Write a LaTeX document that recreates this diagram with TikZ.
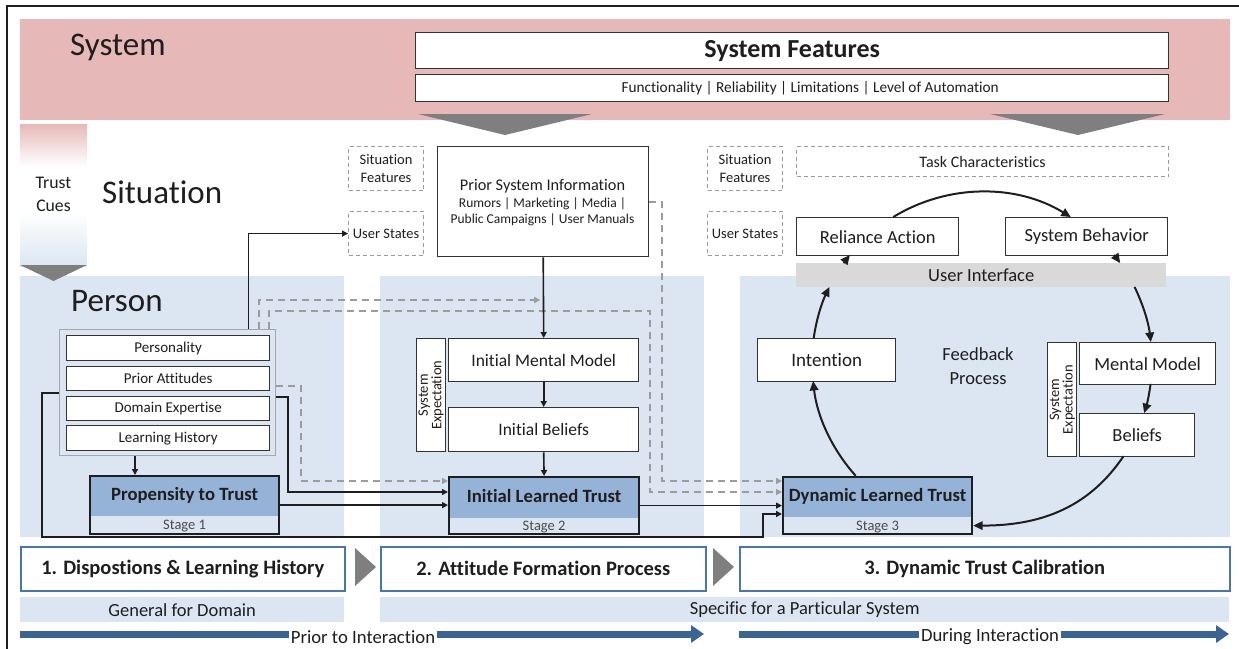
\documentclass[tikz,border=0pt]{standalone}
\usepackage{fontspec}
\setmainfont{Carlito}[Ligatures=NoCommon]
\usetikzlibrary{arrows.meta,calc}

\definecolor{sysred}{HTML}{E6B9B8}
\definecolor{perblue}{HTML}{DCE6F2}
\definecolor{trustblue}{HTML}{95B3D7}
\definecolor{cuegray}{HTML}{7F7F7F}
\definecolor{uigray}{HTML}{D9D9D9}
\definecolor{stageblue}{HTML}{4A76B0}
\definecolor{phaseblue}{HTML}{3A6491}
\definecolor{ink}{HTML}{1E1E1E}
\definecolor{boxline}{HTML}{333333}
\definecolor{dashgray}{HTML}{9C9C9C}
\definecolor{groupgray}{HTML}{A6A6A6}

\newcommand\fsz[2]{\fontsize{#1}{#2}\selectfont}

\tikzset{
  nw/.style={anchor=north west, inner sep=0pt, align=center, text=ink},
  box/.style={nw, draw=boxline, line width=1.4pt, fill=white},
  dbox/.style={nw, draw=dashgray, line width=1.1pt, dash pattern=on 4pt off 3pt,
    font=\fsz{14.5}{18}},
  trustbox/.style={nw, draw=ink, line width=2.2pt, fill=perblue,
    path picture={\fill[trustblue] (path picture bounding box.north west)
      rectangle ([yshift=#1]path picture bounding box.south east);}},
  trustlbl/.style={text=ink, inner sep=0pt, font=\bfseries\fsz{18.7}{22}},
  stagelbl/.style={text=ink!80, inner sep=0pt, font=\fsz{14.5}{17}},
  arr/.style={draw=ink, line width=1.6pt, -{Triangle[length=6pt,width=6pt]}},
  darr/.style={draw=dashgray, line width=1.8pt, dash pattern=on 7pt off 5pt,
    -{Triangle[length=6pt,width=6pt]}},
  carr/.style={draw=ink, line width=2pt, -{Triangle[length=9.5pt,width=8.5pt]}},
  stagebox/.style={nw, draw=stageblue, line width=1.5pt, fill=white,
    font=\bfseries\fsz{20.5}{24}},
  phase/.style={draw=phaseblue, line width=7pt},
  phasearr/.style={phase, -{Triangle[length=13pt,width=17pt]}},
  phaselbl/.style={text=ink, inner sep=1.5pt, font=\fsz{18.7}{22}},
  title/.style={anchor=base west, text=ink, inner sep=0pt, font=\fsz{33}{36}},
  rotlbl/.style={rotate=90, align=center, text=ink, inner sep=0pt, font=\fsz{14.5}{13.5}},
}

\begin{document}
\begin{tikzpicture}[x=1pt,y=1pt]
\useasboundingbox (0,0) rectangle (1239,-648);

% outer frame (open at the right and bottom)
\draw[ink, line width=1.5pt] (7,-652) -- (7,-6) -- (1242,-6);

% layer bands
\fill[sysred] (20,-19) rectangle (1230,-120);
\fill[perblue] (20,-276) rectangle (344,-537);
\fill[perblue] (380,-276) rectangle (704,-537);
\fill[perblue] (740,-276) rectangle (1230,-537);

% trust cues column
\shade[top color=sysred, bottom color=white] (20,-124) rectangle (87,-166);
\fill[white] (20,-166) rectangle (87,-212);
\shade[top color=white, bottom color=perblue] (20,-212) rectangle (87,-266);
\fill[cuegray] (20,-265) -- (87,-265) -- (53.5,-281) -- cycle;
\node[text=ink, align=center, font=\fsz{17.7}{23}] (cues) at (53.5,-194) {Trust\\Cues};

% system features flowing down
\fill[cuegray] (418,-114) -- (592,-114) -- (505,-135) -- cycle;
\fill[cuegray] (990,-114) -- (1165,-114) -- (1078,-135) -- cycle;

% layer titles
\node[title] (systitle) at (70,-55) {System};
\node[title] (sittitle) at (102,-203) {Situation};
\node[title] (pertitle) at (71,-311) {Person};

% system features
\node[box, minimum width=753, minimum height=36, font=\bfseries\fsz{26}{30}] (feat) at (415,-32) {System Features};
\node[box, minimum width=753, minimum height=27] (featlist) at (415,-74) {};
\node[text=ink, inner sep=0pt, font=\fsz{15.3}{18}] (featlistt) at ($(featlist.center)+(18,0)$) {Functionality | Reliability | Limitations | Level of Automation};

% ---------- stage 1: dispositions ----------
\node[nw, draw=groupgray, line width=1.3pt, minimum width=216, minimum height=126] (group) at (59,-329) {};
\node[box, minimum width=203, minimum height=25, font=\fsz{15}{18}] (pers) at (66,-335) {Personality};
\node[box, minimum width=203, minimum height=24, font=\fsz{15}{18}] (attit) at (66,-366) {Prior Attitudes};
\node[box, minimum width=203, minimum height=24, font=\fsz{15}{18}] (expert) at (66,-396) {Domain Expertise};
\node[box, minimum width=203, minimum height=25, font=\fsz{15}{18}] (history) at (66,-425) {Learning History};

\node[trustbox=18, minimum width=189, minimum height=58] (prop) at (89,-475) {};
\node[trustlbl] (propt) at ($(prop.north)+(0,-20)$) {Propensity to Trust};
\node[stagelbl] (props) at ($(prop.south)+(0,9)$) {Stage 1};

% ---------- stage 2: attitude formation ----------
\node[dbox, minimum width=75, minimum height=44] (sitf1) at (348,-146) {Situation\\Features};
\node[dbox, minimum width=75, minimum height=44] (users1) at (348,-211) {User States};

\node[box, minimum width=211, minimum height=110] (psi) at (437,-146) {};
\node[anchor=base, inner sep=0pt, text=ink, font=\fsz{16.3}{19}] (psit) at (542.5,-190) {Prior System Information};
\node[anchor=base, inner sep=0pt, text=ink, font=\fsz{13.5}{16}] (psil1) at (542.5,-207) {Rumors | Marketing | Media |};
\node[anchor=base, inner sep=0pt, text=ink, font=\fsz{13.5}{16}] (psil2) at (542.5,-223) {Public Campaigns | User Manuals};

\node[box, minimum width=29, minimum height=113] (sexp1) at (416,-338) {};
\node[rotlbl] (sexp1t) at (sexp1.center) {System\\Expectation};
\node[box, minimum width=190, minimum height=43, font=\fsz{17.5}{20}] (imm) at (448,-338) {Initial Mental Model};
\node[box, minimum width=190, minimum height=44, font=\fsz{17.5}{20}] (ib) at (448,-407) {Initial Beliefs};

\node[trustbox=16, minimum width=190, minimum height=57] (ilt) at (448,-476) {};
\node[trustlbl] (iltt) at ($(ilt.north)+(0,-20.5)$) {Initial Learned Trust};
\node[stagelbl] (ilts) at ($(ilt.south)+(0,8)$) {Stage 2};

% ---------- stage 3: dynamic calibration ----------
\node[dbox, minimum width=75, minimum height=44] (sitf2) at (707,-146) {Situation\\Features};
\node[dbox, minimum width=75, minimum height=44] (users2) at (707,-211) {User States};
\node[dbox, minimum width=372, minimum height=30, font=\fsz{16}{19}] (task) at (796,-146) {Task Characteristics};

\node[box, minimum width=162, minimum height=38, font=\fsz{18.5}{21}] (rely) at (796,-217) {Reliance Action};
\node[box, minimum width=162, minimum height=38, font=\fsz{18.5}{21}] (sysbeh) at (1005,-217) {System Behavior};
\node[nw, fill=uigray, minimum width=370, minimum height=24, font=\fsz{18.5}{21}] (ui) at (796,-263) {User Interface};

\node[box, minimum width=138, minimum height=43, font=\fsz{19}{22}] (intent) at (757,-338) {Intention};
\node[text=ink, align=center, inner sep=0pt, font=\fsz{18.5}{23.5}] (fb) at (978,-366) {Feedback\\Process};

\node[box, minimum width=29, minimum height=114] (sexp2) at (1047,-342) {};
\node[rotlbl] (sexp2t) at (sexp2.center) {System\\Expectation};
\node[box, minimum width=136, minimum height=42, font=\fsz{18.5}{21}] (mm) at (1079,-342) {Mental Model};
\node[box, minimum width=115, minimum height=43, font=\fsz{18.5}{21}] (bel) at (1079,-413) {Beliefs};

\node[trustbox=17, minimum width=189, minimum height=57] (dlt) at (782,-476) {};
\node[trustlbl] (dltt) at ($(dlt.north)+(0,-20)$) {Dynamic Learned Trust};
\node[stagelbl] (dlts) at ($(dlt.south)+(0,8.5)$) {Stage 3};

% ---------- phase row ----------
\node[stagebox, minimum width=324, minimum height=44] (st1) at (20,-546) {1. Dispostions \& Learning History};
\node[stagebox, minimum width=325, minimum height=44] (st2) at (380,-546) {2. Attitude Formation Process};
\node[stagebox, minimum width=490, minimum height=44] (st3) at (739,-546) {3. Dynamic Trust Calibration};
\fill[cuegray] (355,-548) -- (376,-567) -- (355,-586) -- cycle;
\fill[cuegray] (713,-548) -- (734,-567) -- (713,-586) -- cycle;

\node[nw, fill=perblue, minimum width=324, minimum height=25, font=\fsz{18.5}{21}] (general) at (20,-597) {General for Domain};
\node[nw, fill=perblue, minimum width=849, minimum height=25, font=\fsz{18.5}{21}] (specific) at (380,-597) {Specific for a Particular System};

\node[phaselbl] (priorint) at (363,-637) {Prior to Interaction};
\node[phaselbl] (duringint) at (990,-637) {During Interaction};
\coordinate (pa0) at (20,-634);
\coordinate (pa1) at (704,-634);
\coordinate (pb0) at (739,-634);
\coordinate (pb1) at (1229,-634);
\draw[phase] (pa0) -- (priorint.west |- pa0);
\draw[phasearr] (priorint.east |- pa0) -- (pa1);
\draw[phase] (pb0) -- (duringint.west |- pb0);
\draw[phasearr] (duringint.east |- pb0) -- (pb1);

% ---------- connectors ----------
\coordinate (r202) at (0,-202);
\coordinate (r300) at (0,-300);
\coordinate (r311) at (0,-311);
\coordinate (r386) at (0,-386);
\coordinate (r393) at (0,-393);
\coordinate (r397) at (0,-397);
\coordinate (r481) at (0,-481);
\coordinate (r492) at (0,-492);
\coordinate (r514) at (0,-514);
\coordinate (r537) at (0,-537);
\coordinate (c42) at (42,0);
\coordinate (c135) at (135,0);
\coordinate (c288) at (288,0);
\coordinate (c301) at (301,0);
\coordinate (c650) at (650,0);
\coordinate (c662) at (662,0);
\coordinate (c763) at (763,0);

% dispositions feed the situation and later stages
\draw[arr] ([xshift=81]group.north) |- (users1.west);
\draw[darr] ([xshift=91]group.north) |- ($(psi.south |- r300)+(-3,0)$);
\draw[darr] ([xshift=101]group.north) |- (c650 |- r311) -- (c650 |- r492) -- (dlt.west |- r492);
\draw[darr] (group.east |- r386) -| (c301 |- r481) -- (ilt.west |- r481);
\draw[arr] (group.east |- r397) -| (c288 |- r492) -- (ilt.west |- r492);
\draw[arr] (group.west |- r393) -| (c42 |- r537) -| (c763 |- r514) -- (dlt.west |- r514);
\draw[arr] (c135 |- group.south) -- (c135 |- prop.north);
\draw[arr] (prop.east) -- (prop.east -| ilt.west);

% attitude formation chain
\draw[arr] (psi.south) -- (imm.north);
\draw[arr] (imm.south) -- (ib.north);
\draw[arr] (ib.south) -- (ilt.north);
\draw[darr] (psi.east |- r202) -| (c662 |- r481) -- (dlt.west |- r481);
\draw[arr] (ilt.east) -- (ilt.east -| dlt.west);

% feedback loop
\coordinate (loop) at (982,-362);
\draw[carr] ($(loop)+(222:170)$) arc[start angle=222, end angle=186.4, radius=170];
\draw[carr] ($(loop)+(171.9:170)$) arc[start angle=171.9, end angle=153.8, radius=170];
\draw[carr] ($(loop)+(144.4:170)$) arc[start angle=144.4, end angle=141, radius=170];
\draw[carr] ($(loop)+(121.5:170)$) arc[start angle=121.5, end angle=58.5, radius=170];
\draw[carr] ($(loop)+(39:170)$) arc[start angle=39, end angle=35.6, radius=170];
\draw[carr] ($(loop)+(26.2:170)$) arc[start angle=26.2, end angle=6.75, radius=170];
\draw[carr] ($(loop)+(-7.4:170)$) arc[start angle=-7.4, end angle=-17.5, radius=170];
\draw[carr] ($(loop)+(-33.6:170)$) to[out=236, in=0] ($(dlt.east)+(0,-20)$);
\end{tikzpicture}
\end{document}
